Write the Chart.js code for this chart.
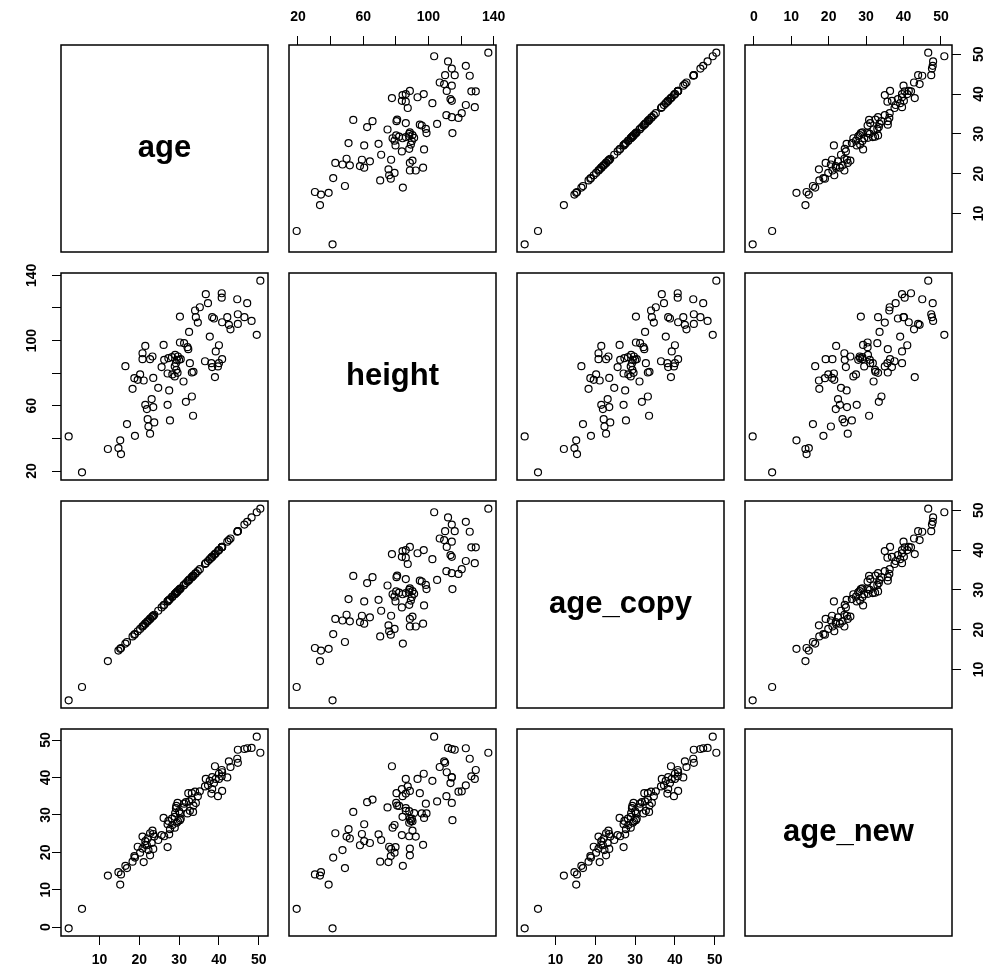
<!DOCTYPE html>
<html>
<head>
<meta charset="utf-8">
<script src="https://cdn.jsdelivr.net/npm/chart.js@4.4.1/dist/chart.umd.min.js"></script>
<style>
    html, body { margin: 0; padding: 0; background: #fff; }
    #wrap { position: relative; width: 1007px; height: 975px; overflow: hidden; }
    #wrap canvas { position: absolute; }
</style>
</head>
<body>
<div id="wrap"></div>
<script>
'use strict';
const names = ['age', 'height', 'age_copy', 'age_new'];

const age = [2.25, 5.6, 12.1, 14.75, 15.2, 15.4, 16.9, 18.9, 16.5, 18.3,
    18.75, 19.6, 20.2, 21.1, 20.8, 21.5, 20.8, 22.7, 23.3, 23.5,
    24.75, 21.5, 21.9, 23.5, 23.1, 22.1, 23.75, 22.3, 22.7, 26.1,
    25.6, 26.25, 27.1, 27.5, 27.1, 27.7, 27.3, 28.2, 28.3, 29.0,
    29.3, 29.7, 30.0, 30.4, 28.9, 29.6, 30.2, 31.25, 32.1, 32.3,
    31.1, 30.2, 32.5, 32.7, 33.2, 33.6, 31.7, 33.2, 33.5, 34.0,
    34.2, 34.7, 35.2, 36.7, 37.25, 36.5, 37.7, 38.1, 38.3, 38.75,
    38.3, 39.0, 39.2, 39.75, 40.0, 40.0, 40.8, 40.7, 40.7, 40.8,
    42.1, 42.5, 42.9, 44.6, 44.75, 44.75, 46.4, 47.1, 48.2, 49.5,
    50.4, 28.9, 29.2, 29.4];

const height = [41.2, 19.2, 33.5, 34.1, 38.8, 30.4, 48.8, 41.6, 84.3, 70.4,
    76.9, 75.9, 79.2, 75.5, 92.2, 96.7, 88.6, 88.6, 90.2, 77.1,
    71.0, 60.6, 58.0, 59.2, 64.1, 51.8, 49.8, 47.3, 42.9, 97.3,
    83.7, 88.2, 79.8, 69.4, 60.6, 51.0, 89.2, 89.8, 79.2, 91.2,
    82.0, 90.2, 88.2, 88.6, 78.0, 80.2, 98.8, 98.4, 95.9, 94.7,
    74.9, 114.7, 105.3, 86.1, 80.4, 80.8, 62.4, 65.7, 53.9, 118.4,
    114.3, 111.0, 120.4, 128.4, 122.9, 87.3, 102.4, 86.1, 114.3, 113.5,
    83.7, 77.6, 93.3, 84.1, 97.1, 86.1, 88.6, 129.0, 126.3, 111.2,
    114.3, 109.6, 106.9, 125.3, 116.1, 110.2, 114.3, 122.9, 112.0, 103.5,
    136.7, 84.1, 86.1, 88.2];

// age_copy is the same column as age
const ageCopy = age.slice();

const ageNew = [-0.3, 4.9, 13.8, 14.7, 11.4, 14.1, 15.8, 18.6, 16.4, 17.5,
    19.0, 21.5, 19.9, 17.4, 24.2, 22.0, 21.0, 19.2, 25.8, 20.9,
    23.3, 23.0, 21.9, 24.9, 22.5, 23.7, 24.2, 20.6, 25.1, 29.2,
    24.6, 24.3, 21.4, 24.8, 27.5, 26.2, 28.4, 29.0, 27.3, 30.5,
    32.4, 28.3, 31.0, 29.0, 26.6, 33.2, 30.4, 33.0, 30.4, 35.8,
    32.0, 28.6, 33.6, 31.1, 35.8, 32.5, 33.4, 34.1, 30.8, 36.2,
    33.2, 35.0, 36.3, 39.6, 37.9, 37.6, 39.1, 35.7, 40.1, 38.5,
    36.9, 43.0, 39.6, 35.0, 41.0, 39.6, 36.4, 42.0, 40.3, 41.4,
    40.0, 44.3, 42.8, 45.0, 47.4, 43.9, 47.6, 47.8, 47.9, 50.9,
    46.6, 29.5, 31.8, 27.9];

const ageTicks = [10, 20, 30, 40, 50];
const heightTicks = [20, 40, 60, 80, 100, 120, 140];
const heightLabels = [20, 60, 100, 140];
const ageNewTicks = [0, 10, 20, 30, 40, 50];

const columns = [
    {values: age, ticks: ageTicks, labels: ageTicks},
    {values: height, ticks: heightTicks, labels: heightLabels},
    {values: ageCopy, ticks: ageTicks, labels: ageTicks},
    {values: ageNew, ticks: ageNewTicks, labels: ageNewTicks}
];

const PANEL = 207, STEP = 228, LEFT0 = 61, TOP0 = 45;
const M = 60, P = 16, TICK = 9;
const tickFont = {family: '"Liberation Sans", Arial, sans-serif', size: 14, weight: 'bold'};

const frame = {
    id: 'frame',
    afterDraw: function (chart) {
        const ca = chart.chartArea;
        const ctx = chart.ctx;
        ctx.save();
        ctx.strokeStyle = '#000';
        ctx.lineWidth = 1.5;
        ctx.strokeRect(ca.left, ca.top, ca.right - ca.left, ca.bottom - ca.top);
        const label = chart.options.plugins.frame.label;
        if (label) {
            ctx.fillStyle = '#000';
            ctx.font = 'bold 31px "Liberation Sans", Arial, sans-serif';
            ctx.textAlign = 'center';
            ctx.textBaseline = 'middle';
            ctx.fillText(label, (ca.left + ca.right) / 2, (ca.top + ca.bottom) / 2);
        }
        ctx.restore();
    }
};

const makeScale = function (col, position, show, pad) {
    const v = columns[col].values;
    const lo = Math.min(...v), hi = Math.max(...v), ext = (hi - lo) * 0.04;
    const vertical = position === 'left' || position === 'right';
    return {
        type: 'linear',
        position: position,
        min: lo - ext,
        max: hi + ext,
        afterBuildTicks: function (s) {
            s.ticks = columns[col].ticks.map(t => ({value: t}));
        },
        afterFit: function (s) {
            // fixed axis band, and no extra room for overhanging labels
            if (vertical) s.width = M; else s.height = M;
            s.paddingLeft = 0;
            s.paddingRight = 0;
            s.paddingTop = 0;
            s.paddingBottom = 0;
        },
        grid: {display: show, drawOnChartArea: false, drawTicks: true, tickLength: TICK, color: '#000', lineWidth: 1},
        border: {display: false},
        ticks: {
            display: show,
            autoSkip: false,
            color: '#000',
            font: tickFont,
            padding: pad,
            minRotation: vertical ? 90 : 0,
            maxRotation: vertical ? 90 : 0,
            crossAlign: vertical ? 'center' : 'near',
            callback: function (val) {
                return columns[col].labels.includes(val) ? String(val) : '';
            }
        }
    };
};

const makePanel = function (r, c) {
    const xPos = r === 0 ? 'top' : 'bottom';
    const yPos = c === 3 ? 'right' : 'left';
    const showX = (r === 0 && c % 2 === 1) || (r === 3 && c % 2 === 0);
    const showY = (c === 0 && r % 2 === 1) || (c === 3 && r % 2 === 0);
    const xPad = xPos === 'top' ? 10.6 : 7;
    let yPad = 10.7;
    if (yPos === 'left') yPad = r === 1 ? 8.3 : -1.8;

    const canvas = document.createElement('canvas');
    canvas.width = PANEL + M + 2 * P;
    canvas.height = PANEL + M + 2 * P;
    canvas.style.left = (LEFT0 + c * STEP - P - (yPos === 'left' ? M : 0)) + 'px';
    canvas.style.top = (TOP0 + r * STEP - P - (xPos === 'top' ? M : 0)) + 'px';
    document.querySelector('#wrap').appendChild(canvas);

    let datasets = [];
    if (r !== c) {
        const xs = columns[c].values, ys = columns[r].values;
        datasets = [{
            data: xs.map((x, i) => ({x: x, y: ys[i]})),
            pointStyle: 'circle',
            pointRadius: 3.5,
            pointHoverRadius: 3.5,
            borderWidth: 1.2,
            borderColor: '#000',
            backgroundColor: 'rgba(0,0,0,0)'
        }];
    }

    new Chart(canvas, {
        type: 'scatter',
        data: {datasets: datasets},
        options: {
            responsive: false,
            animation: false,
            events: [],
            layout: {padding: P},
            scales: {
                x: makeScale(c, xPos, showX, xPad),
                y: makeScale(r, yPos, showY, yPad)
            },
            plugins: {
                legend: {display: false},
                tooltip: {enabled: false},
                frame: {label: r === c ? names[r] : ''}
            }
        },
        plugins: [frame]
    });
};

const init = function () {
    for (let r = 0; r < 4; r++) {
        for (let c = 0; c < 4; c++) {
            makePanel(r, c);
        }
    }
};

document.addEventListener('DOMContentLoaded', function () {
    init();
});
</script>
</body>
</html>
